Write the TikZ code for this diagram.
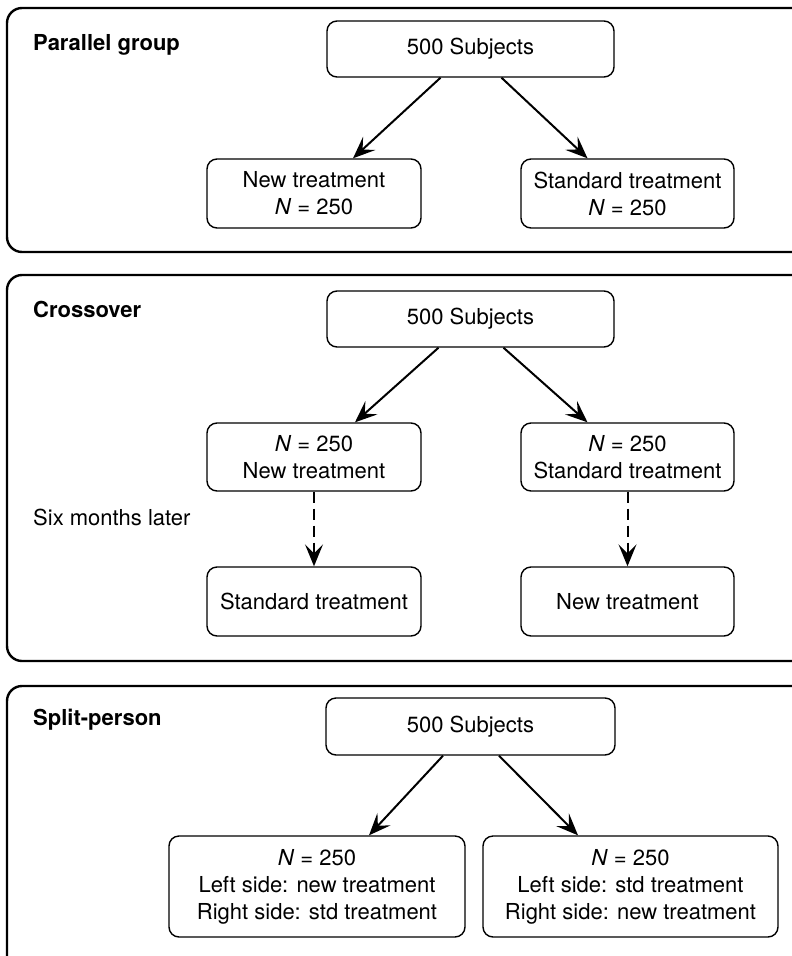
\documentclass[tikz,border=0pt]{standalone}
\usepackage{fontspec}
\setmainfont{TeX Gyre Heros}
\usetikzlibrary{arrows.meta,calc}

\begin{document}
\begin{tikzpicture}[x=1pt,y=-1pt,
  panel/.style={line width=2.4pt, rounded corners=15pt},
  box/.style={draw, line width=1.4pt, rounded corners=10pt, align=center, inner sep=0pt,
    font=\fontsize{22}{27}\selectfont},
  title/.style={anchor=base west, inner sep=0pt, font=\fontsize{22}{27}\selectfont\bfseries},
  note/.style={anchor=base west, inner sep=0pt, font=\fontsize{22}{27}\selectfont},
  arr/.style={line width=2pt, -{Stealth[length=22pt,width=18pt,inset=9pt]}},
  later/.style={arr, dash pattern=on 11pt off 6pt}]
\clip (0,0) rectangle (792,956);

% Parallel group
\draw[panel] (7,8) rectangle (810,252);
\node[title] (t1) at (33,50) {Parallel group};
\node[box, minimum width=287pt, minimum height=56pt] (p) at (470.5,49) {500 Subjects};
\node[box, minimum width=214pt, minimum height=69pt] (pa) at (314,193.5) {New treatment\\\textit{N} = 250};
\node[box, minimum width=213pt, minimum height=69pt] (pb) at (627.5,193.5) {Standard treatment\\\textit{N} = 250};
\draw[arr] ([xshift=-30pt]p.south) -- ([xshift=39pt]pa.north);
\draw[arr] ([xshift=31pt]p.south) -- ([xshift=-40pt]pb.north);

% Crossover
\draw[panel] (7,275) rectangle (810,661);
\node[title] (t2) at (33,317) {Crossover};
\node[note] (six) at (33,525) {Six months later};
\node[box, minimum width=287pt, minimum height=56pt] (c) at (470.5,319) {500 Subjects};
\node[box, minimum width=214pt, minimum height=68pt] (ca) at (314,457) {\textit{N} = 250\\New treatment};
\node[box, minimum width=213pt, minimum height=68pt] (cb) at (627.5,457) {\textit{N} = 250\\Standard treatment};
\node[box, minimum width=214pt, minimum height=69pt] (cc) at (314,601.5) {Standard treatment};
\node[box, minimum width=213pt, minimum height=69pt] (cd) at (627.5,601.5) {New treatment};
\draw[arr] ([xshift=-32pt]c.south) -- ([xshift=41pt]ca.north);
\draw[arr] ([xshift=33pt]c.south) -- ([xshift=-40pt]cb.north);
\draw[later] (ca.south) -- (cc.north);
\draw[later] (cb.south) -- (cd.north);

% Split-person
\draw[panel] (7,686) rectangle (810,975);
\node[title] (t3) at (33,725) {Split-person};
\node[box, minimum width=289pt, minimum height=57pt] (s) at (470.5,726.5) {500 Subjects};
\node[box, minimum width=296pt, minimum height=101pt] (sa) at (317,886.5)
  {\textit{N} = 250\\Left side: new treatment\\Right side: std treatment};
\node[box, minimum width=295pt, minimum height=101pt] (sb) at (630.5,886.5)
  {\textit{N} = 250\\Left side: std treatment\\Right side: new treatment};
\draw[arr] ([xshift=-27.5pt]s.south) -- ([xshift=52pt]sa.north);
\draw[arr] ([xshift=28.5pt]s.south) -- ([xshift=-52.5pt]sb.north);
\end{tikzpicture}
\end{document}
